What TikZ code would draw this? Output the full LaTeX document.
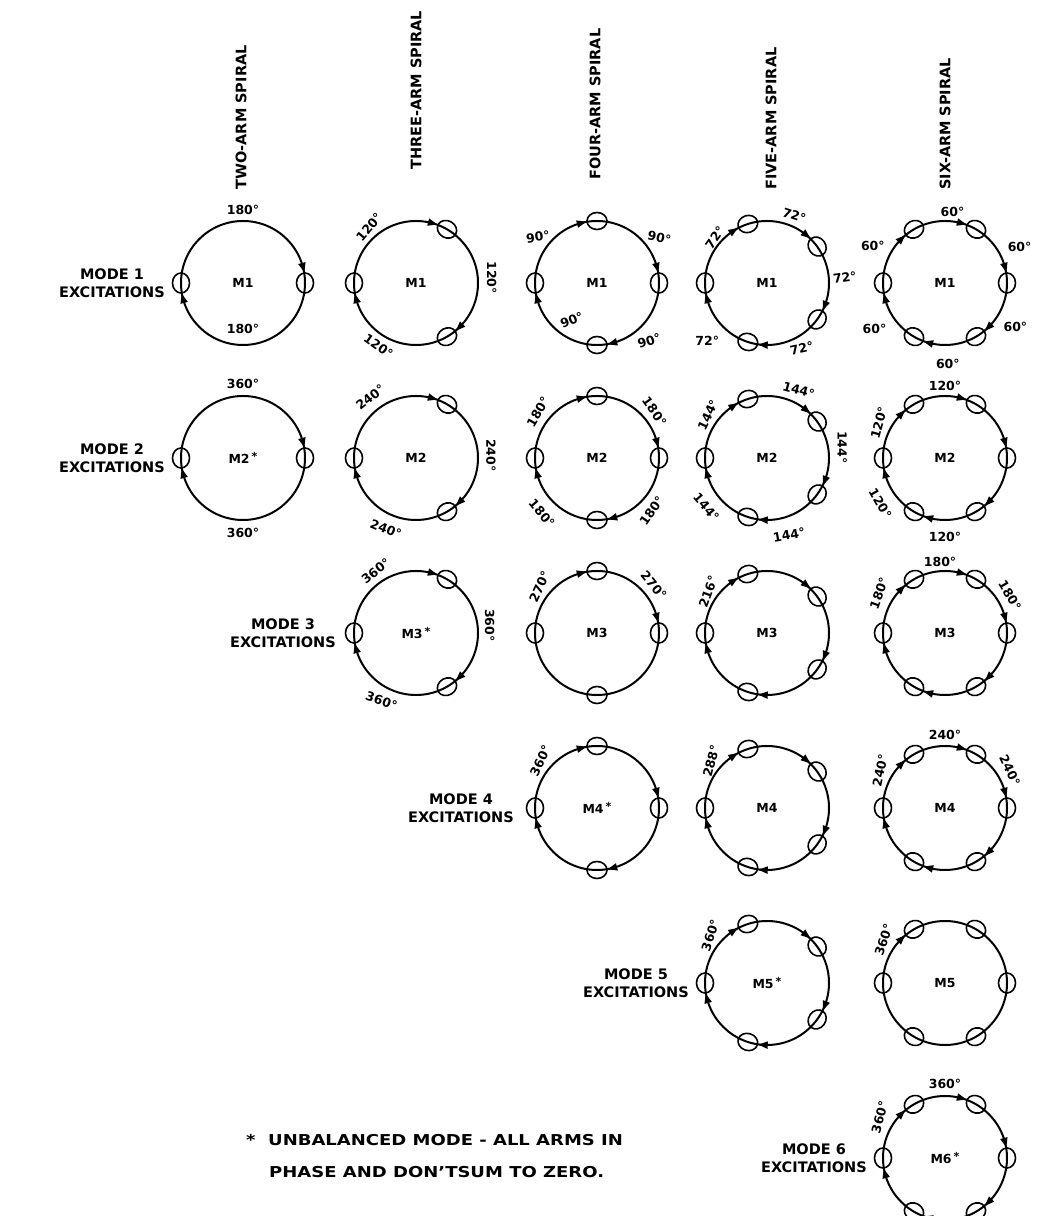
\documentclass[tikz,border=0pt]{standalone}
\usepackage{fontspec}
\setmainfont{DejaVu Sans}
\def\RR{62}
\tikzset{
  ring/.style={line width=2pt},
  portc/.style={line width=1.6pt},
  lbl/.style={font=\bfseries\fontsize{12.5}{13}\selectfont, inner sep=0pt},
  ctr/.style={font=\bfseries\fontsize{12.5}{13}\selectfont, inner sep=1pt},
  modetxt/.style={font=\bfseries\fontsize{14.5}{18}\selectfont, align=center, anchor=east, inner sep=0pt},
  ttl/.style={font=\bfseries\fontsize{14.5}{15}\selectfont, rotate=90, anchor=west, inner sep=0pt},
  foot/.style={font=\bfseries\fontsize{15}{16}\selectfont, anchor=west, inner sep=0pt}
}
\newcommand\myports[1]{\foreach \a in {#1}{\draw[portc,rotate=\a] (\RR,0) ellipse (8.5 and 10);}}
\newcommand\myarrs[1]{\foreach \a in {#1}{\fill[rotate=\a] (\RR,-5.5) -- (\RR-3.8,4) -- (\RR+3.8,4) -- cycle;}}
\newcommand\mystar{\,\raisebox{3pt}{\fontsize{11}{11}\selectfont *}}
\begin{document}
\begin{tikzpicture}[x=1pt,y=1pt]
\useasboundingbox (0,0) rectangle (1053,1216);
\clip (0,0) rectangle (1053,1216);
\fill[white] (0,0) rectangle (1053,1216);

% titles
\node[ttl] (t2) at (241,1026) {TWO-ARM SPIRAL};
\node[ttl] (t3) at (416,1046) {THREE-ARM SPIRAL};
\node[ttl] (t4) at (595,1036) {FOUR-ARM SPIRAL};
\node[ttl] (t5) at (771,1026) {FIVE-ARM SPIRAL};
\node[ttl] (t6) at (945,1026) {SIX-ARM SPIRAL};

% mode labels
\node[modetxt] (md1) at (165,933) {MODE 1\\EXCITATIONS};
\node[modetxt] (md2) at (165,758) {MODE 2\\EXCITATIONS};
\node[modetxt] (md3) at (336,583) {MODE 3\\EXCITATIONS};
\node[modetxt] (md4) at (514,408) {MODE 4\\EXCITATIONS};
\node[modetxt] (md5) at (689,233) {MODE 5\\EXCITATIONS};
\node[modetxt] (md6) at (867,58) {MODE 6\\EXCITATIONS};

% ================= ROW 1 =================
\begin{scope}[shift={(243,933)}]
 \draw[ring] (0,0) circle (\RR);
 \myports{0,180} \myarrs{15,195}
 \node[ctr] (c11) at (0,0) {M1};
 \node[lbl] (l11a) at (90:73) {180°};
 \node[lbl] (l11b) at (270:46) {180°};
\end{scope}
\begin{scope}[shift={(416,933)}]
 \draw[ring] (0,0) circle (\RR);
 \myports{60,180,300} \myarrs{75,195,315}
 \node[ctr] (c12) at (0,0) {M1};
 \node[lbl,rotate=50] (l12a) at (130:73) {120°};
 \node[lbl,rotate=-90] (l12b) at (4:76) {120°};
 \node[lbl,rotate=-35] (l12c) at (239:73) {120°};
\end{scope}
\begin{scope}[shift={(597,933)}]
 \draw[ring] (0,0) circle (\RR);
 \myports{0,90,180,270} \myarrs{15,105,195,285}
 \node[ctr] (c13) at (0,0) {M1};
 \node[lbl,rotate=8] (l13a) at (142:75) {90°};
 \node[lbl,rotate=-12] (l13b) at (36:77) {90°};
 \node[lbl,rotate=22] (l13c) at (236:45) {90°};
 \node[lbl,rotate=18] (l13d) at (-48:78) {90°};
\end{scope}
\begin{scope}[shift={(767,933)}]
 \draw[ring] (0,0) circle (\RR);
 \myports{36,108,180,252,324} \myarrs{51,123,195,267,339}
 \node[ctr] (c14) at (0,0) {M1};
 \node[lbl,rotate=55] (l14a) at (139:69) {72°};
 \node[lbl,rotate=-18] (l14b) at (68:73) {72°};
 \node[lbl,rotate=8] (l14c) at (4:78) {72°};
 \node[lbl] (l14d) at (224:83) {72°};
 \node[lbl,rotate=12] (l14e) at (-62:74) {72°};
\end{scope}
\begin{scope}[shift={(945,933)}]
 \draw[ring] (0,0) circle (\RR);
 \myports{0,60,120,180,240,300} \myarrs{15,75,135,195,255,315}
 \node[ctr] (c15) at (0,0) {M1};
 \node[lbl] (l15a) at (84:71) {60°};
 \node[lbl] (l15b) at (153:81) {60°};
 \node[lbl] (l15c) at (26:83) {60°};
 \node[lbl] (l15d) at (213:84) {60°};
 \node[lbl] (l15e) at (-32:83) {60°};
 \node[lbl] (l15f) at (272:81) {60°};
\end{scope}

% ================= ROW 2 =================
\begin{scope}[shift={(243,758)}]
 \draw[ring] (0,0) circle (\RR);
 \myports{0,180} \myarrs{15,195}
 \node[ctr] (c21) at (0,0) {M2\mystar};
 \node[lbl] (l21a) at (90:74) {360°};
 \node[lbl] (l21b) at (270:75) {360°};
\end{scope}
\begin{scope}[shift={(416,758)}]
 \draw[ring] (0,0) circle (\RR);
 \myports{60,180,300} \myarrs{75,195,315}
 \node[ctr] (c22) at (0,0) {M2};
 \node[lbl,rotate=38] (l22a) at (127:76) {240°};
 \node[lbl,rotate=-90] (l22b) at (2:75) {240°};
 \node[lbl,rotate=-22] (l22c) at (247:77) {240°};
\end{scope}
\begin{scope}[shift={(597,758)}]
 \draw[ring] (0,0) circle (\RR);
 \myports{0,90,180,270} \myarrs{15,105,195,285}
 \node[ctr] (c23) at (0,0) {M2};
 \node[lbl,rotate=60] (l23a) at (142:75) {180°};
 \node[lbl,rotate=-55] (l23b) at (39:74) {180°};
 \node[lbl,rotate=-50] (l23c) at (225:78) {180°};
 \node[lbl,rotate=55] (l23d) at (-44:76) {180°};
\end{scope}
\begin{scope}[shift={(767,758)}]
 \draw[ring] (0,0) circle (\RR);
 \myports{36,108,180,252,324} \myarrs{51,123,195,267,339}
 \node[ctr] (c24) at (0,0) {M2};
 \node[lbl,rotate=65] (l24a) at (144:73) {144°};
 \node[lbl,rotate=-15] (l24b) at (65:75) {144°};
 \node[lbl,rotate=-90] (l24c) at (8:76) {144°};
 \node[lbl,rotate=-50] (l24d) at (219:78) {144°};
 \node[lbl,rotate=10] (l24e) at (-74:80) {144°};
\end{scope}
\begin{scope}[shift={(945,758)}]
 \draw[ring] (0,0) circle (\RR);
 \myports{0,60,120,180,240,300} \myarrs{15,75,135,195,255,315}
 \node[ctr] (c25) at (0,0) {M2};
 \node[lbl] (l25a) at (90:72) {120°};
 \node[lbl,rotate=75] (l25b) at (152:75) {120°};
 \node[lbl,rotate=-60] (l25c) at (215:79) {120°};
 \node[lbl] (l25d) at (270:79) {120°};
\end{scope}

% ================= ROW 3 =================
\begin{scope}[shift={(416,583)}]
 \draw[ring] (0,0) circle (\RR);
 \myports{60,180,300} \myarrs{75,195,315}
 \node[ctr] (c32) at (0,0) {M3\mystar};
 \node[lbl,rotate=38] (l32a) at (123:74) {360°};
 \node[lbl,rotate=-90] (l32b) at (6:74) {360°};
 \node[lbl,rotate=-20] (l32c) at (243:76) {360°};
\end{scope}
\begin{scope}[shift={(597,583)}]
 \draw[ring] (0,0) circle (\RR);
 \myports{0,90,180,270} \myarrs{15,105}
 \node[ctr] (c33) at (0,0) {M3};
 \node[lbl,rotate=65] (l33a) at (141:74) {270°};
 \node[lbl,rotate=-50] (l33b) at (40:74) {270°};
\end{scope}
\begin{scope}[shift={(767,583)}]
 \draw[ring] (0,0) circle (\RR);
 \myports{36,108,180,252,324} \myarrs{51,123,195,267,339}
 \node[ctr] (c34) at (0,0) {M3};
 \node[lbl,rotate=70] (l34a) at (145:72) {216°};
\end{scope}
\begin{scope}[shift={(945,583)}]
 \draw[ring] (0,0) circle (\RR);
 \myports{0,60,120,180,240,300} \myarrs{15,75,135,195,255,315}
 \node[ctr] (c35) at (0,0) {M3};
 \node[lbl] (l35a) at (94:71) {180°};
 \node[lbl,rotate=70] (l35b) at (149:77) {180°};
 \node[lbl,rotate=-60] (l35c) at (30:75) {180°};
\end{scope}

% ================= ROW 4 =================
\begin{scope}[shift={(597,408)}]
 \draw[ring] (0,0) circle (\RR);
 \myports{0,90,180,270} \myarrs{15,105,195,285}
 \node[ctr] (c43) at (0,0) {M4\mystar};
 \node[lbl,rotate=65] (l43a) at (140:74) {360°};
\end{scope}
\begin{scope}[shift={(767,408)}]
 \draw[ring] (0,0) circle (\RR);
 \myports{36,108,180,252,324} \myarrs{51,123,195,267,339}
 \node[ctr] (c44) at (0,0) {M4};
 \node[lbl,rotate=75] (l44a) at (140:73) {288°};
\end{scope}
\begin{scope}[shift={(945,408)}]
 \draw[ring] (0,0) circle (\RR);
 \myports{0,60,120,180,240,300} \myarrs{15,75,135,195,255,315}
 \node[ctr] (c45) at (0,0) {M4};
 \node[lbl] (l45a) at (90:73) {240°};
 \node[lbl,rotate=78] (l45b) at (150:75) {240°};
 \node[lbl,rotate=-65] (l45c) at (30:75) {240°};
\end{scope}

% ================= ROW 5 =================
\begin{scope}[shift={(767,233)}]
 \draw[ring] (0,0) circle (\RR);
 \myports{36,108,180,252,324} \myarrs{51,123,195,267,339}
 \node[ctr] (c54) at (0,0) {M5\mystar};
 \node[lbl,rotate=72] (l54a) at (140:74) {360°};
\end{scope}
\begin{scope}[shift={(945,233)}]
 \draw[ring] (0,0) circle (\RR);
 \myports{0,60,120,180,240,300} \myarrs{135}
 \node[ctr] (c55) at (0,0) {M5};
 \node[lbl,rotate=72] (l55a) at (145:75) {360°};
\end{scope}

% ================= ROW 6 =================
\begin{scope}[shift={(945,58)}]
 \draw[ring] (0,0) circle (\RR);
 \myports{0,60,120,180,240,300} \myarrs{15,75,135,195,255,315}
 \node[ctr] (c65) at (0,0) {M6\mystar};
 \node[lbl] (l65a) at (90:74) {360°};
 \node[lbl,rotate=75] (l65b) at (148:77) {360°};
\end{scope}

% footnote
\node[foot] (f1) at (246,76) {\scalebox{1.2}[1]{*\ \ UNBALANCED MODE - ALL ARMS IN}};
\node[foot] (f2) at (269,44) {\scalebox{1.2}[1]{PHASE AND DON'TSUM TO ZERO.}};
\end{tikzpicture}
\end{document}
